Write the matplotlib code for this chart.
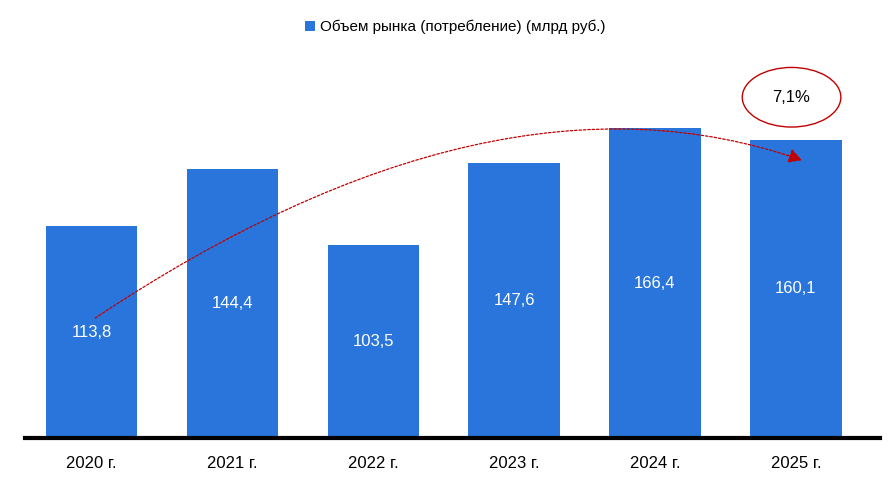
import matplotlib
matplotlib.use("Agg")
import matplotlib.pyplot as plt
from matplotlib.patches import Ellipse, Patch, FancyArrowPatch
from matplotlib.path import Path

plt.rcParams['font.family'] = ['Liberation Sans Narrow', 'Liberation Sans', 'DejaVu Sans']

years = ['2020 г.', '2021 г.', '2022 г.', '2023 г.', '2024 г.', '2025 г.']
values = [113.8, 144.4, 103.5, 147.6, 166.4, 160.1]
value_labels = ['113,8', '144,4', '103,5', '147,6', '166,4', '160,1']
series_name = 'Объем рынка (потребление) (млрд руб.)'
growth_label = '7,1%'

bar_color = '#2A75DB'
red = '#C00000'

fig = plt.figure(figsize=(8.92, 4.94), dpi=100)
ax = fig.add_axes([25 / 892, 56 / 494, 855 / 892, 378 / 494])

x = list(range(len(years)))
ax.bar(x, values, width=0.65, color=bar_color, zorder=2)

for xi, v, lab in zip(x, values, value_labels):
    ax.text(xi, v / 2, lab, color='white', ha='center', va='center', fontsize=12)

ax.set_xlim(-0.473, 5.598)
ax.set_ylim(0, 203)
ax.set_xticks(x)
ax.set_xticklabels(years, fontsize=12)
ax.tick_params(axis='x', length=0, pad=13)
ax.set_yticks([])
for s in ['top', 'right', 'left']:
    ax.spines[s].set_visible(False)
ax.spines['bottom'].set_linewidth(3)
ax.spines['bottom'].set_zorder(3)

# trend arrow: quadratic curve from the first bar to the last one
curve = Path([(0.025, 64.4), (2.857, 207), (5.043, 149.2)],
             [Path.MOVETO, Path.CURVE3, Path.CURVE3])
arrow = FancyArrowPatch(path=curve, transform=ax.transData,
                        arrowstyle='-|>,head_length=8,head_width=4.5',
                        linestyle=(0, (2, 1.5)), color=red, lw=0.9,
                        zorder=4, clip_on=False)
ax.add_patch(arrow)

# growth ellipse
ax.add_patch(Ellipse((4.97, 183), width=0.70, height=32, fill=False,
                     edgecolor=red, lw=1, clip_on=False, zorder=4))
ax.text(4.97, 183, growth_label, ha='center', va='center', fontsize=12,
        color='black', zorder=5)

handle = Patch(facecolor=bar_color, edgecolor='none')
fig.legend([handle], [series_name], loc='center', bbox_to_anchor=(0.51, 1 - 27 / 494),
           frameon=False, fontsize=11, handlelength=0.7, handleheight=0.7,
           handletextpad=0.3)

fig.savefig('out.png', dpi=100)
